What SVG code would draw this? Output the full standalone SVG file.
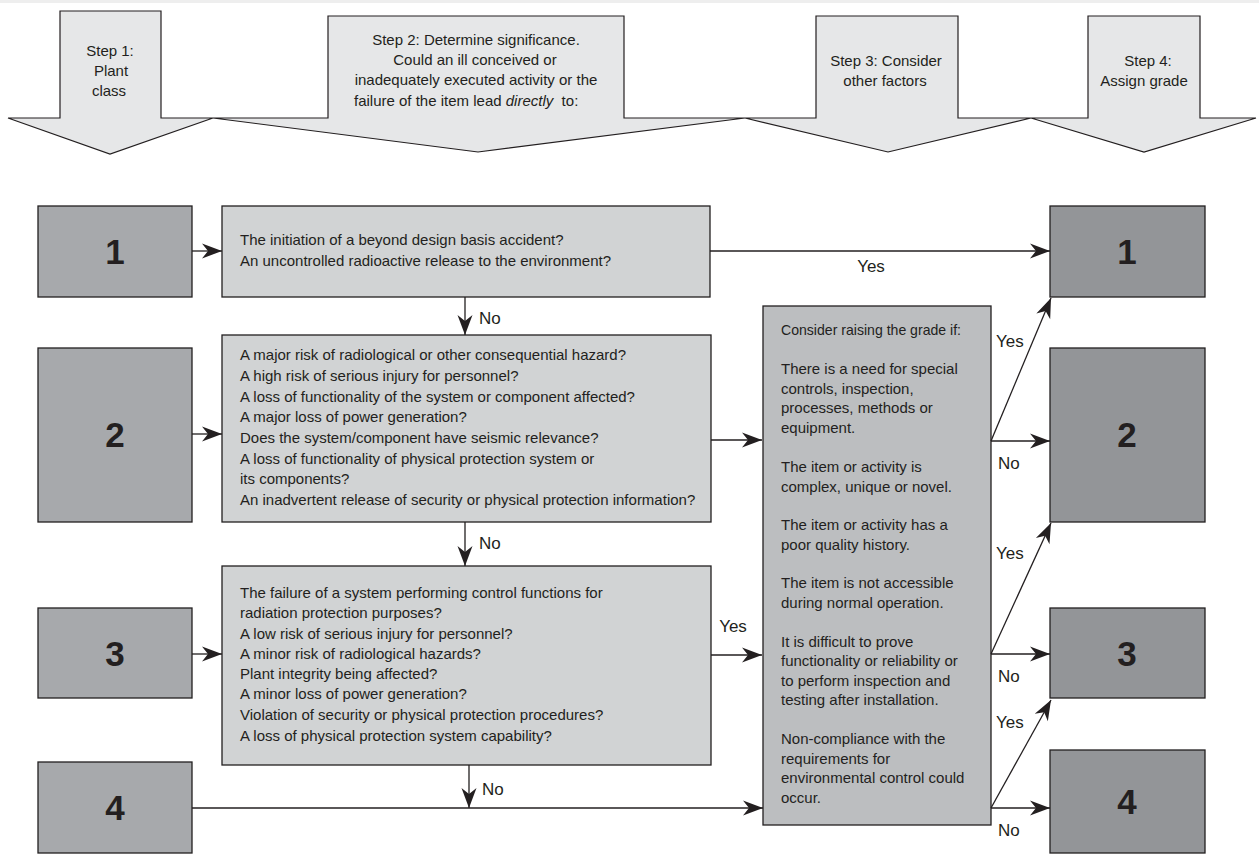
<svg xmlns="http://www.w3.org/2000/svg" width="1259" height="867" viewBox="0 0 1259 867">
<style>
  .t { font-family: "Liberation Sans", Arial, sans-serif; font-size: 15px; fill: #231f20; }
  .lab { font-family: "Liberation Sans", Arial, sans-serif; font-size: 17px; fill: #231f20; }
  .num { font-family: "Liberation Sans", Arial, sans-serif; font-size: 35px; font-weight: bold; fill: #231f20; text-anchor: middle; }
  .mid { text-anchor: middle; }
  .box { stroke: #231f20; stroke-width: 1.3; }
  .step { fill: #e6e7e8; stroke: #231f20; stroke-width: 1.2; stroke-linejoin: miter; }
  .gl { fill: #a7a9ac; }
  .gr { fill: #939598; }
  .q { fill: #d1d3d4; }
  .c { fill: #bcbec0; }
  .conn line { stroke: #231f20; stroke-width: 1.3; fill: none; marker-end: url(#ah); }
</style>
<defs>
  <marker id="ah" markerUnits="userSpaceOnUse" viewBox="-20 -8 21 16" refX="0" refY="0" markerWidth="21" markerHeight="16" orient="auto" overflow="visible">
    <path d="M0,0 L-20,-7.5 L-14,0 L-20,7.5 Z" fill="#231f20"/>
  </marker>
</defs>
<rect x="0" y="0" width="1259" height="867" fill="#ffffff"/>
<rect x="0" y="0" width="1259" height="3" fill="#eeeeee"/>

<g id="step1">
  <polygon class="step" points="60,11 161,11 161,118 213,118 110,154 8,118 60,118"/>
  <text class="t mid" x="110" y="56">Step 1:</text>
  <text class="t mid" x="111" y="76">Plant</text>
  <text class="t mid" x="109" y="96">class</text>
</g>
<g id="step2">
  <polygon class="step" points="328,16 624,16 624,118 745,118 478,152 213,118 328,118"/>
  <text class="t mid" x="476" y="45">Step 2: Determine significance.</text>
  <text class="t mid" x="475" y="65">Could an ill conceived or</text>
  <text class="t mid" x="476" y="85">inadequately executed activity or the</text>
  <text class="t" x="354" y="106" xml:space="preserve">failure of the item lead <tspan font-style="italic">directly</tspan>  to:</text>
</g>
<g id="step3">
  <polygon class="step" points="816,16 958,16 958,118 1031,118 888,152 745,118 816,118"/>
  <text class="t mid" x="886" y="66">Step 3: Consider</text>
  <text class="t mid" x="885" y="86">other factors</text>
</g>
<g id="step4">
  <polygon class="step" points="1088,16 1200,16 1200,118 1256,118 1144,152 1031,118 1088,118"/>
  <text class="t mid" x="1148" y="66">Step 4:</text>
  <text class="t mid" x="1144" y="86">Assign grade</text>
</g>

<g id="class1"><rect class="box gl" x="38" y="206" width="154" height="91"/><text class="num" x="115" y="264">1</text></g>
<g id="class2"><rect class="box gl" x="38" y="348" width="154" height="174"/><text class="num" x="115" y="447">2</text></g>
<g id="class3"><rect class="box gl" x="38" y="608" width="154" height="90"/><text class="num" x="115" y="666">3</text></g>
<g id="class4"><rect class="box gl" x="38" y="762" width="154" height="91"/><text class="num" x="115" y="820">4</text></g>

<g id="grade1"><rect class="box gr" x="1050" y="206" width="155" height="91"/><text class="num" x="1127" y="264">1</text></g>
<g id="grade2"><rect class="box gr" x="1050" y="348" width="155" height="174"/><text class="num" x="1127" y="447">2</text></g>
<g id="grade3"><rect class="box gr" x="1050" y="608" width="155" height="90"/><text class="num" x="1127" y="666">3</text></g>
<g id="grade4"><rect class="box gr" x="1050" y="750" width="155" height="103"/><text class="num" x="1127" y="814">4</text></g>

<g id="q1">
  <rect class="box q" x="222" y="206" width="488" height="91"/>
  <text class="t" x="240" y="245">The initiation of a beyond design basis accident?</text>
  <text class="t" x="240" y="266">An uncontrolled radioactive release to the environment?</text>
</g>
<g id="q2">
  <rect class="box q" x="222" y="335" width="489" height="187"/>
  <text class="t" x="240" y="360">A major risk of radiological or other consequential hazard?</text>
  <text class="t" x="240" y="381">A high risk of serious injury for personnel?</text>
  <text class="t" x="240" y="402">A loss of functionality of the system or component affected?</text>
  <text class="t" x="240" y="422">A major loss of power generation?</text>
  <text class="t" x="240" y="443">Does the system/component have seismic relevance?</text>
  <text class="t" x="240" y="464">A loss of functionality of physical protection system or</text>
  <text class="t" x="240" y="484">its components?</text>
  <text class="t" x="240" y="505">An inadvertent release of security or physical protection information?</text>
</g>
<g id="q3">
  <rect class="box q" x="222" y="566" width="489" height="199"/>
  <text class="t" x="240" y="598">The failure of a system performing control functions for</text>
  <text class="t" x="240" y="618">radiation protection purposes?</text>
  <text class="t" x="240" y="639">A low risk of serious injury for personnel?</text>
  <text class="t" x="240" y="659">A minor risk of radiological hazards?</text>
  <text class="t" x="240" y="679">Plant integrity being affected?</text>
  <text class="t" x="240" y="699">A minor loss of power generation?</text>
  <text class="t" x="240" y="720">Violation of security or physical protection procedures?</text>
  <text class="t" x="240" y="741">A loss of physical protection system capability?</text>
</g>
<g id="consider">
  <rect class="box c" x="763" y="306" width="228" height="519"/>
  <text class="t" x="781" y="335" textLength="180" lengthAdjust="spacingAndGlyphs">Consider raising the grade if:</text>
  <text class="t" x="781" y="374">There is a need for special</text>
  <text class="t" x="781" y="394">controls, inspection,</text>
  <text class="t" x="781" y="413">processes, methods or</text>
  <text class="t" x="781" y="433">equipment.</text>
  <text class="t" x="781" y="472">The item or activity is</text>
  <text class="t" x="781" y="492">complex, unique or novel.</text>
  <text class="t" x="781" y="530">The item or activity has a</text>
  <text class="t" x="781" y="550">poor quality history.</text>
  <text class="t" x="781" y="588">The item is not accessible</text>
  <text class="t" x="781" y="608">during normal operation.</text>
  <text class="t" x="781" y="647">It is difficult to prove</text>
  <text class="t" x="781" y="666">functionality or reliability or</text>
  <text class="t" x="781" y="686">to perform inspection and</text>
  <text class="t" x="781" y="705">testing after installation.</text>
  <text class="t" x="781" y="744">Non-compliance with the</text>
  <text class="t" x="781" y="764">requirements for</text>
  <text class="t" x="781" y="783">environmental control could</text>
  <text class="t" x="781" y="803">occur.</text>
</g>

<g id="connectors" class="conn">
  <line x1="192" y1="251" x2="222" y2="251"/>
  <line x1="192" y1="434" x2="222" y2="434"/>
  <line x1="192" y1="654" x2="222" y2="654"/>
  <line x1="710" y1="251" x2="1050" y2="251"/>
  <line x1="465" y1="297" x2="465" y2="335"/>
  <line x1="465" y1="522" x2="465" y2="566"/>
  <line x1="469" y1="765" x2="469" y2="808"/>
  <line x1="711" y1="440" x2="762" y2="440"/>
  <line x1="711" y1="655" x2="762" y2="655"/>
  <line x1="192" y1="808" x2="763" y2="808"/>
  <line x1="991" y1="441" x2="1051" y2="298"/>
  <line x1="991" y1="441" x2="1050" y2="441"/>
  <line x1="991" y1="654" x2="1051" y2="523"/>
  <line x1="991" y1="654" x2="1050" y2="654"/>
  <line x1="991" y1="808" x2="1051" y2="700"/>
  <line x1="991" y1="808" x2="1050" y2="808"/>
  <text class="lab mid" x="871" y="272">Yes</text>
  <text class="lab" x="479" y="324">No</text>
  <text class="lab" x="479" y="549">No</text>
  <text class="lab mid" x="733" y="632">Yes</text>
  <text class="lab" x="482" y="795">No</text>
  <text class="lab" x="996" y="347">Yes</text>
  <text class="lab" x="998" y="469">No</text>
  <text class="lab" x="996" y="559">Yes</text>
  <text class="lab" x="998" y="682">No</text>
  <text class="lab" x="996" y="728">Yes</text>
  <text class="lab" x="998" y="836">No</text>
</g>
</svg>
